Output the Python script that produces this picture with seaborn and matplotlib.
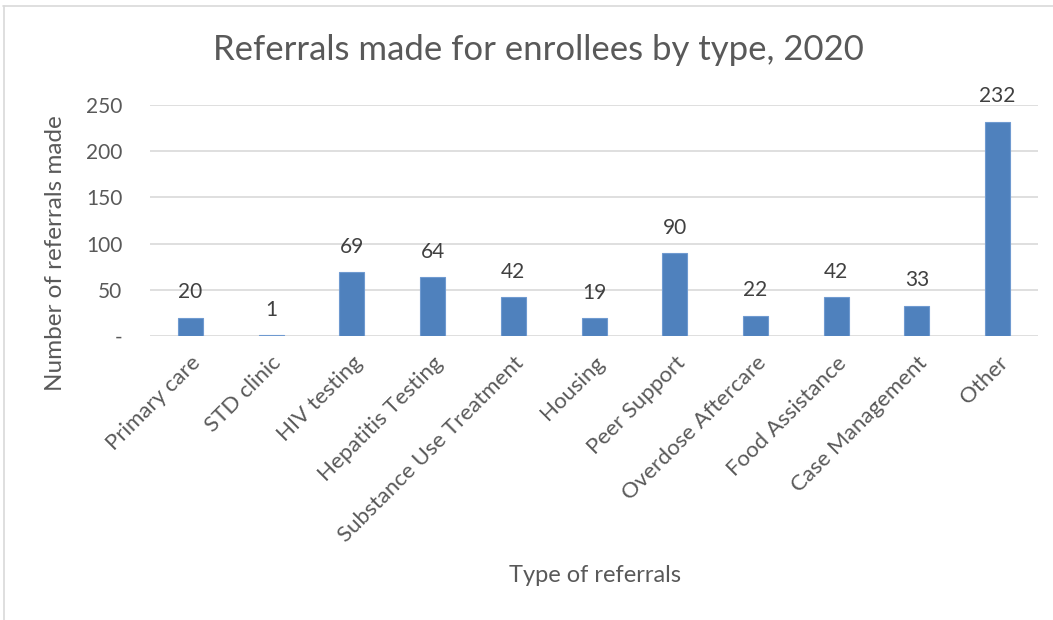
import matplotlib
matplotlib.use("Agg")
import matplotlib.pyplot as plt
import seaborn as sns
import pandas as pd

categories = ["Primary care", "STD clinic", "HIV testing", "Hepatitis Testing",
              "Substance Use Treatment", "Housing", "Peer Support", "Overdose Aftercare",
              "Food Assistance", "Case Management", "Other"]
values = [20, 1, 69, 64, 42, 19, 90, 22, 42, 33, 232]
yticks = [0, 50, 100, 150, 200, 250]
ytick_labels = ["-", "50", "100", "150", "200", "250"]

sns.set_theme(style="white")
plt.rcParams['font.family'] = ['Lato', 'DejaVu Sans']

df = pd.DataFrame({"type": categories, "count": values})

fig = plt.figure(figsize=(10.53, 6.2), dpi=100)
ax = fig.add_axes([0.1425, 0.458, 0.8433, 0.3726])

sns.barplot(data=df, x="type", y="count", color="#4F81BD", width=0.31,
            edgecolor="#6F9AD0", linewidth=0.8, ax=ax, saturation=1)

ax.set_ylim(0, 250)
ax.set_xlim(-0.5, len(categories) - 0.5)
ax.set_yticks(yticks)
ax.set_yticklabels(ytick_labels, fontsize=15, color="#595959")
ax.yaxis.grid(True, color="#D9D9D9", linewidth=1.2)
ax.set_axisbelow(True)
for s in ax.spines.values():
    s.set_visible(False)
ax.tick_params(axis="both", length=0)
ax.tick_params(axis="y", pad=20)
ax.set_xticks(range(len(categories)))
ax.set_xticklabels(categories, rotation=45, ha="right", rotation_mode="anchor",
                   fontsize=16, color="#595959")
ax.tick_params(axis="x", pad=12)

for c in ax.containers:
    ax.bar_label(c, labels=[str(v) for v in values], padding=11, fontsize=15, color="#404040")

ax.set_xlabel("")
ax.set_ylabel("")
fig.text(595 / 1053, 1 - 575 / 620, "Type of referrals", fontsize=17, color="#595959",
         ha="center", va="center")
fig.text(56 / 1053, 1 - 253 / 620, "Number of referrals made", fontsize=17.5, color="#595959",
         ha="center", va="center", rotation=90)

fig.text(538 / 1053, 1 - 50 / 620, "Referrals made for enrollees by type, 2020",
         fontsize=25, color="#595959", ha="center", va="center")

# chart frame
fig.add_artist(plt.Line2D([3 / 1053, 1], [1 - 6 / 620, 1 - 6 / 620],
                          transform=fig.transFigure, color="#D9D9D9", linewidth=1.2))
fig.add_artist(plt.Line2D([3.5 / 1053, 3.5 / 1053], [0, 1 - 6 / 620],
                          transform=fig.transFigure, color="#D9D9D9", linewidth=1.2))

fig.savefig("out.png", dpi=100)
